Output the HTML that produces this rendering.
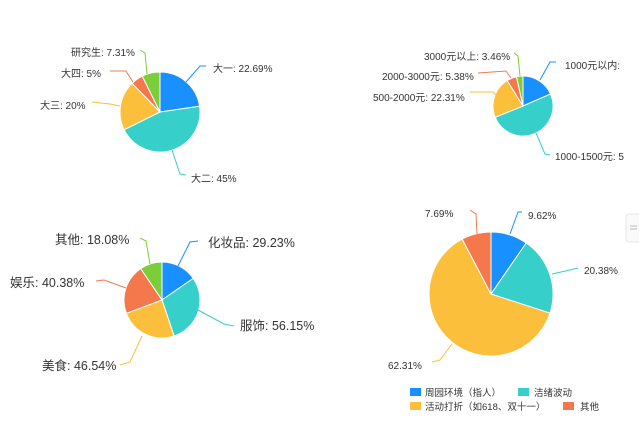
<!DOCTYPE html><html><head><meta charset="utf-8"><style>
body{margin:0;background:#fff;width:639px;height:423px;overflow:hidden}
svg text{font-family:"Liberation Sans","Noto Sans CJK SC",sans-serif;fill:#333}
</style></head><body>
<svg id="s" width="639" height="423" xmlns="http://www.w3.org/2000/svg">
<g font-size="10">
<text x="213" y="72">大一: 22.69%</text>
<text x="191" y="182">大二: 45%</text>
<text x="40" y="109">大三: 20%</text>
<text x="61" y="77">大四: 5%</text>
<text x="71" y="56">研究生: 7.31%</text>
<polyline points="186,82 200,66 206,66" fill="none" stroke="#1890ff"/>
<polyline points="172,150 180,174 186,175" fill="none" stroke="#36cfc9"/>
<polyline points="92,102 110,104 120,106" fill="none" stroke="#fbbf3c"/>
<polyline points="110,71 126,71 133,82" fill="none" stroke="#f5784c"/>
<polyline points="140,50 145,53 147,74" fill="none" stroke="#7ccd3a"/>

<text x="424" y="60">3000元以上: 3.46%</text>
<text x="382" y="80">2000-3000元: 5.38%</text>
<text x="373" y="101">500-2000元: 22.31%</text>
<text x="565" y="69">1000元以内:</text>
<text x="555" y="160">1000-1500元: 5</text>
<polyline points="540,80 550,62 556,62" fill="none" stroke="#1890ff"/>
<polyline points="536,133 545,154 550,155" fill="none" stroke="#36cfc9"/>
<polyline points="470,92 493,92 498,97" fill="none" stroke="#fbbf3c"/>
<polyline points="478,73 506,71 511,78" fill="none" stroke="#f5784c"/>
<polyline points="514,53 518,56 520,76" fill="none" stroke="#7ccd3a"/>
</g>
<g font-size="12.5">
<text x="55" y="244">其他: 18.08%</text>
<text x="208" y="247">化妆品: 29.23%</text>
<text x="10" y="287">娱乐: 40.38%</text>
<text x="240" y="330">服饰: 56.15%</text>
<text x="42" y="370">美食: 46.54%</text>
<polyline points="178,266 190,242 198,241" fill="none" stroke="#1890ff"/>
<polyline points="198,310 224,324 234,326" fill="none" stroke="#36cfc9"/>
<polyline points="142,336 130,362 120,365" fill="none" stroke="#fbbf3c"/>
<polyline points="126,288 104,280 96,281" fill="none" stroke="#f5784c"/>
<polyline points="150,264 146,241 140,238" fill="none" stroke="#7ccd3a"/>
</g>
<g font-size="10">
<text x="528" y="219">9.62%</text>
<text x="584" y="274">20.38%</text>
<text x="388" y="369">62.31%</text>
<text x="425" y="217">7.69%</text>
<polyline points="510,234 518,212 522,212" fill="none" stroke="#1890ff"/>
<polyline points="552,274 570,270 578,268" fill="none" stroke="#36cfc9"/>
<polyline points="452,344 440,360 432,362" fill="none" stroke="#fbbf3c"/>
<polyline points="477,234 476,214 470,210" fill="none" stroke="#f5784c"/>
<rect x="410" y="388" width="11" height="8" fill="#1890ff"/>
<text x="425" y="396" font-size="9.5">周园环境（指人）</text>
<rect x="518" y="388" width="11" height="8" fill="#36cfc9"/>
<text x="534" y="396" font-size="9.5">洁绪波动</text>
<rect x="410" y="402" width="11" height="8" fill="#fbbf3c"/>
<text x="425" y="410" font-size="9.5">活动打折（如618、双十一）</text>
<rect x="563" y="402" width="11" height="8" fill="#f5784c"/>
<text x="580" y="410" font-size="9.5">其他</text>
</g>
<rect x="626" y="214" width="16" height="28" rx="3" fill="#fafafa" stroke="#e6e6e6"/>
<line x1="630" y1="226" x2="637" y2="226" stroke="#bbb"/><line x1="630" y1="229" x2="637" y2="229" stroke="#bbb"/>
</svg>
<script>
var C=["#1890ff","#36cfc9","#fbbf3c","#f5784c","#7ccd3a"];
function pie(cx,cy,r,vals){var s=0,t=vals.reduce((a,b)=>a+b,0),h="";
vals.forEach(function(v,i){var a0=s/t*2*Math.PI;s+=v;var a1=s/t*2*Math.PI;
var x0=cx+r*Math.sin(a0),y0=cy-r*Math.cos(a0),x1=cx+r*Math.sin(a1),y1=cy-r*Math.cos(a1);
h+='<path d="M'+cx+','+cy+'L'+x0+','+y0+'A'+r+','+r+' 0 '+((a1-a0)>Math.PI?1:0)+' 1 '+x1+','+y1+'Z" fill="'+C[i]+'" stroke="#fff" stroke-width="1"/>';});
return h;}
var g=document.createElementNS("http://www.w3.org/2000/svg","g");
g.innerHTML=pie(160,112,40,[22.69,45,20,5,7.31])+pie(523,106,30,[18.46,50.39,22.31,5.38,3.46])+pie(162,300,38,[29.23,56.15,46.54,40.38,18.08])+pie(491,294,62,[9.62,20.38,62.31,7.69]);
document.getElementById("s").insertBefore(g,document.getElementById("s").firstChild);
</script>
</body></html>
